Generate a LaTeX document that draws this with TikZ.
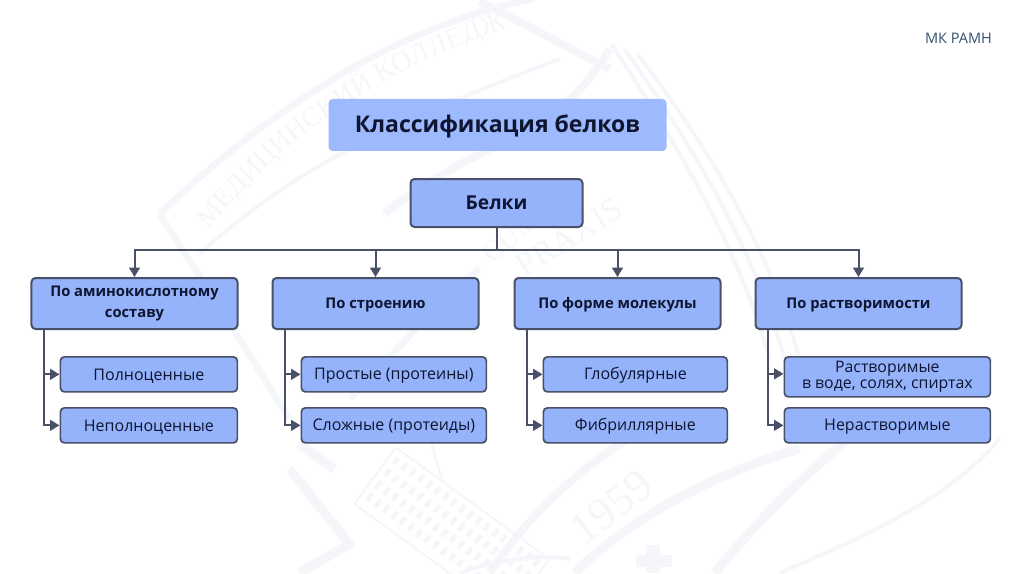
\documentclass[tikz,border=0pt]{standalone}
\usepackage{fontspec}
\setmainfont{Open Sans}
\newfontfamily\wmfont{Liberation Serif}
\usetikzlibrary{arrows.meta,decorations.text}
\definecolor{boxfill}{HTML}{94B3FB}
\definecolor{titlefill}{HTML}{9CBAFD}
\definecolor{edgecol}{HTML}{4A5068}
\definecolor{inkcol}{HTML}{0F1530}
\definecolor{brandcol}{HTML}{34506F}
\definecolor{wmcol}{HTML}{F4F6FA}
\tikzset{
  x=0.75pt,y=-0.75pt,
  basebox/.style={anchor=north west,rounded corners=3pt,align=center,text=inkcol,inner sep=0pt,line width=1.5pt,draw=edgecol,fill=boxfill},
  headbox/.style={basebox,minimum width=154.5pt,minimum height=38.25pt,font=\fontsize{11.05pt}{15.5pt}\selectfont\bfseries,execute at begin node={\rule{0pt}{10.5pt}}},
  subbox/.style={basebox,minimum height=26.25pt,line width=1.3pt,font=\fontsize{12pt}{13pt}\selectfont,execute at begin node={\rule{0pt}{11pt}}},
  conn/.style={draw=edgecol,line width=1.5pt,-{Triangle[length=7pt,width=8pt]}},
  wmline/.style={draw=wmcol,line width=3pt,line join=round},
  wmtext/.style={text=wmcol,font=\wmfont}
}
\begin{document}
\begin{tikzpicture}
\useasboundingbox (0.5,1) rectangle (1024.5,575);
\begin{scope}
\clip (0.5,1) rectangle (1024.5,575);
% watermark
\draw[wmline,line width=5pt] (160,215) .. controls (270,110) and (400,25) .. (535,0);
\draw[wmline,line width=5pt] (160,215) -- (215,300) -- (290,420);
\draw[wmline] (200,255) .. controls (300,165) and (390,125) .. (560,60);
\draw[wmline,line width=6pt] (385,215) .. controls (420,185) and (470,160) .. (520,135) .. controls (560,115) and (590,85) .. (610,50);
\draw[wmline] (612,45) .. controls (680,150) and (740,250) .. (770,360);
\draw[wmline] (625,50) .. controls (695,150) and (755,250) .. (785,360);
\draw[wmline] (638,55) .. controls (710,150) and (770,250) .. (800,360);
\draw[wmline,line width=6pt] (480,2) -- (610,70);
\draw[wmline,line width=7pt] (290,470) -- (350,545) -- (300,574);
\draw[wmline,line width=7pt] (335,470) -- (300,445);
\draw[wmline,line width=6pt] (490,574) .. controls (540,500) and (600,455) .. (660,420);
\draw[wmline,line width=7pt] (575,574) .. controls (640,510) and (730,470) .. (800,450);
\draw[wmline,line width=7pt] (715,574) .. controls (760,520) and (800,480) .. (860,430);
\draw[wmline] (780,574) .. controls (860,540) and (950,500) .. (1000,440);
\draw[wmline] (460,574) .. controls (500,560) and (540,555) .. (570,560);
\draw[wmline,line width=5pt] (350,400) .. controls (400,350) and (440,300) .. (480,270);
% building
\begin{scope}[shift={(355,505)},rotate=-36]
  \draw[wmline,line width=1.5pt] (0,0) rectangle (190,-70);
  \foreach \ix in {0,...,17}{\foreach \iy in {0,...,3}{
    \fill[wmcol] (6+\ix*10.2,-10-\iy*15) rectangle ++(4.5,-9);}}
  \draw[wmline,line width=2pt] (-15,-70) -- (22,-98) -- (58,-70);
\end{scope}
% cross
\fill[wmcol] (646,546) rectangle (660,574);
\fill[wmcol] (636,556) rectangle (672,568);
\path[decorate,decoration={text along path,text align={center},text={|\wmfont\fontsize{21pt}{21pt}\selectfont\color{wmcol}|МЕДИЦИНСКИЙ КОЛЛЕДЖ}}]
  (196,248) .. controls (280,135) and (390,65) .. (528,22);
\node[wmtext,rotate=32,font=\wmfont\fontsize{25pt}{25pt}\selectfont] (wm1) at (570,238) {PRAXIS};
\node[wmtext,rotate=38,font=\wmfont\fontsize{21pt}{21pt}\selectfont] (wm2) at (512,238) {CUM};
\node[wmtext,rotate=38,font=\wmfont\fontsize{34pt}{34pt}\selectfont] (wm3) at (612,508) {1959};
\end{scope}
% boxes
\node[basebox,draw=none,fill=titlefill,minimum width=253.5pt,minimum height=39pt,font=\fontsize{17.25pt}{20pt}\selectfont\bfseries,execute at begin node={\rule{0pt}{15.5pt}}] (title) at (328,99) {Классификация белков};
\node[basebox,minimum width=129pt,minimum height=36pt,font=\fontsize{14.4pt}{16pt}\selectfont\bfseries] (belki) at (410,179) {Белки};
\coordinate (bus) at (496,251);
\node[headbox] (h1) at (31,278) {По аминокислотному\\составу};
\node[headbox] (h2) at (272,278) {По строению};
\node[headbox] (h3) at (514,278) {По форме молекулы};
\node[headbox] (h4) at (755,278) {По растворимости};
\node[subbox,minimum width=132.75pt] (a1) at (60,357) {Полноценные};
\node[subbox,minimum width=132.75pt] (a2) at (60,408) {Неполноценные};
\node[subbox,minimum width=138.75pt] (b1) at (301,357) {Простые (протеины)};
\node[subbox,minimum width=138.75pt] (b2) at (301,408) {Сложные (протеиды)};
\node[subbox,minimum width=138pt] (c1) at (543,357) {Глобулярные};
\node[subbox,minimum width=138pt] (c2) at (543,408) {Фибриллярные};
\node[subbox,minimum width=154.5pt,minimum height=30pt,font=\fontsize{11.9pt}{11.6pt}\selectfont] (d1) at (784,357) {Растворимые\\в воде, солях, спиртах};
\node[subbox,minimum width=154.5pt] (d2) at (784,408) {Нерастворимые};
\node[anchor=center,text=brandcol,inner sep=0pt,font=\fontsize{10.9pt}{12pt}\selectfont] (brand) at (959,39) {МК РАМН};
% connectors
\foreach \h in {h1,h2,h3,h4}{
  \draw[conn] (belki.south) |- (bus) -| (\h.north);
}
\foreach \h/\s in {h1/a,h2/b,h3/c}{
  \draw[conn] ([xshift=9.75pt]\h.south west) |- (\s1.west);
  \draw[conn] ([xshift=9.75pt]\h.south west) |- (\s2.west);
}
\draw[conn] ([xshift=9.75pt]h4.south west) |- ([yshift=2.25pt]d1.west);
\draw[conn] ([xshift=9.75pt]h4.south west) |- (d2.west);
\end{tikzpicture}
\end{document}
